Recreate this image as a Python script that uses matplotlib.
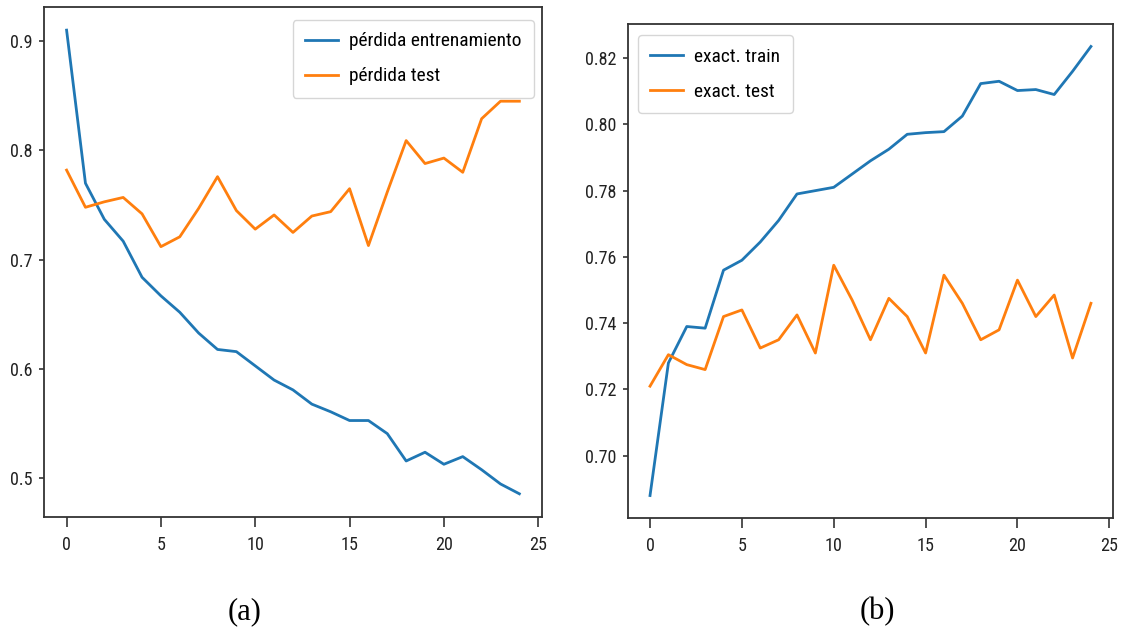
import matplotlib
matplotlib.use("Agg")
import matplotlib.pyplot as plt
from matplotlib import font_manager as fm
from matplotlib.font_manager import FontProperties
from matplotlib.textpath import TextPath
from matplotlib.ticker import MultipleLocator

# Training history over 25 epochs
epochs = list(range(25))

loss_train = [0.910, 0.770, 0.737, 0.717, 0.684, 0.667, 0.652, 0.633, 0.618, 0.616,
              0.603, 0.590, 0.581, 0.568, 0.561, 0.553, 0.553, 0.541, 0.516, 0.524,
              0.513, 0.520, 0.508, 0.495, 0.486]
loss_test = [0.782, 0.748, 0.753, 0.757, 0.742, 0.712, 0.721, 0.747, 0.776, 0.745,
             0.728, 0.741, 0.725, 0.740, 0.744, 0.765, 0.713, 0.762, 0.809, 0.788,
             0.793, 0.780, 0.829, 0.845, 0.845]

acc_train = [0.688, 0.728, 0.739, 0.7385, 0.756, 0.759, 0.7645, 0.771, 0.779, 0.780,
             0.781, 0.785, 0.789, 0.7925, 0.797, 0.7975, 0.7978, 0.8025, 0.8123, 0.813,
             0.8102, 0.8105, 0.809, 0.816, 0.8235]
acc_test = [0.721, 0.7305, 0.7275, 0.726, 0.742, 0.744, 0.7325, 0.735, 0.7425, 0.731,
            0.7575, 0.747, 0.735, 0.7475, 0.742, 0.731, 0.7545, 0.746, 0.735, 0.738,
            0.753, 0.742, 0.7485, 0.7295, 0.746]

labels_loss = ["pérdida entrenamiento", "pérdida test"]
labels_acc = ["exact. train", "exact. test"]
panel_tags = ["(a)", "(b)"]

DPI = 100

# Prefer a narrow sans face for the axis and legend text
available = {f.name for f in fm.fontManager.ttflist}
narrow_choices = ["Liberation Sans Narrow", "Roboto Condensed", "Noto Sans Condensed",
                  "Open Sans Condensed", "DejaVu Sans Condensed"]
sans_prop = None
for name in narrow_choices:
    if name in available:
        sans_prop = FontProperties(family=name)
        break
if sans_prop is None:
    condensed = [f for f in fm.fontManager.ttflist
                 if f.name in ("DejaVu Sans", "Noto Sans", "Open Sans", "Roboto")
                 and str(f.stretch) in ("condensed", "semi-condensed", "75", "87")
                 and f.weight in ("normal", 400, "regular", "book")]
    if condensed:
        sans_prop = FontProperties(fname=condensed[0].fname)
    else:
        sans_prop = FontProperties(family="DejaVu Sans")
serif = "Liberation Serif" if "Liberation Serif" in available else "DejaVu Serif"


def ink_width_px(text, size):
    ext = TextPath((0, 0), text, size=size, prop=sans_prop).get_extents()
    return ext.width * DPI / 72.0


# Size text so that its width fits the layout
legend_size = min(15.0, 10.0 * 171.0 / ink_width_px(labels_loss[0], 10.0))
tick_size = min(15.0, 10.0 * 30.0 / ink_width_px("0.82", 10.0))
legend_px = legend_size * DPI / 72.0

BLUE = "#1f77b4"
ORANGE = "#ff7f0e"

fig = plt.figure(figsize=(11.24, 6.32), dpi=DPI)
ax1 = fig.add_axes([0.0391, 0.1820, 0.4431, 0.8070])
ax2 = fig.add_axes([0.5587, 0.1804, 0.4315, 0.7816])

ax1.plot(epochs, loss_train, color=BLUE, lw=2.0, label=labels_loss[0])
ax1.plot(epochs, loss_test, color=ORANGE, lw=2.0, label=labels_loss[1])
ax2.plot(epochs, acc_train, color=BLUE, lw=2.0, label=labels_acc[0])
ax2.plot(epochs, acc_test, color=ORANGE, lw=2.0, label=labels_acc[1])

ax1.yaxis.set_major_locator(MultipleLocator(0.1))
ax2.yaxis.set_major_locator(MultipleLocator(0.02))

for ax in (ax1, ax2):
    ax.xaxis.set_major_locator(MultipleLocator(5))
    ax.tick_params(axis="y", colors="#222222", width=1.1, length=3.6, pad=4.5)
    ax.tick_params(axis="x", colors="#222222", width=1.1, length=7, pad=7)
    for lab in ax.get_xticklabels() + ax.get_yticklabels():
        lab.set_fontproperties(sans_prop)
        lab.set_fontsize(tick_size)
    for sp in ax.spines.values():
        sp.set_linewidth(1.3)
        sp.set_color("#333333")

leg_prop = sans_prop.copy()
leg_prop.set_size(legend_size)

# Legend geometry: row pitch 35 px, box height 78 px
ROW_PITCH = 35.0
BOX_H = 78.0
spacing = 0.5
pad = 0.5
anchors = [(ax1, "upper right", (0.984, 0.9745)),
           (ax2, "upper left", (0.0206, 0.9777))]


def build_legends(spacing, pad):
    legs = []
    for ax, loc, anchor in anchors:
        legs.append(ax.legend(loc=loc, bbox_to_anchor=anchor, prop=leg_prop,
                              handlelength=33.0 / legend_px,
                              handletextpad=11.0 / legend_px, borderpad=pad,
                              labelspacing=spacing, borderaxespad=0.0,
                              framealpha=0.8))
    return legs


for _ in range(3):
    legs = build_legends(spacing, pad)
    fig.canvas.draw()
    renderer = fig.canvas.get_renderer()
    leg = legs[0]
    t0, t1 = [t.get_window_extent(renderer) for t in leg.get_texts()]
    pitch = abs((t0.y0 + t0.y1) / 2 - (t1.y0 + t1.y1) / 2)
    spacing += (ROW_PITCH - pitch) / legend_px
    legs = build_legends(spacing, pad)
    fig.canvas.draw()
    h = legs[0].get_window_extent(renderer).height
    pad += (BOX_H - h) / (2 * legend_px)

build_legends(spacing, pad)

fig.text(0.218, 0.032, panel_tags[0], ha="center", va="center",
         family=serif, fontsize=22)
fig.text(0.781, 0.032, panel_tags[1], ha="center", va="center",
         family=serif, fontsize=22)

fig.savefig("out.png", dpi=DPI)
